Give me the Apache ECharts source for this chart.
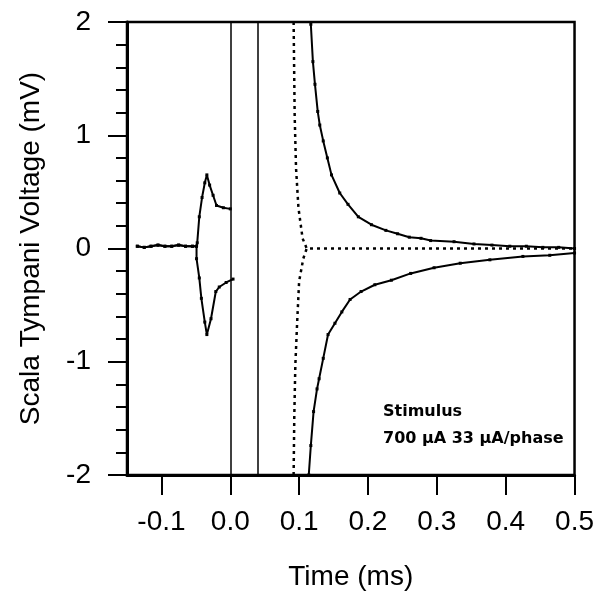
<!DOCTYPE html>
<html>
<head>
<meta charset="utf-8">
<script src="https://cdn.jsdelivr.net/npm/echarts@6/dist/echarts.min.js"></script>
<style>
  html, body { margin: 0; padding: 0; background: #fff; }
  #root { width: 597px; height: 597px; }
</style>
</head>
<body>
<div id="root"></div>
<script>
// x tick values (ms) and y range (mV)
var xTicks = [-0.1, 0.0, 0.1, 0.2, 0.3, 0.4, 0.5];
var stimulusEdges = [0, 0.04];

// pre-stimulus baseline, shared by both polarities
var baseT = [-0.135, -0.125, -0.115, -0.105, -0.095, -0.085, -0.075, -0.065, -0.055, -0.049];
var baseV = [0.02, 0.01, 0.02, 0.03, 0.02, 0.02, 0.03, 0.02, 0.02, 0.02];

// artefact spike before stimulus, positive branch
var spikeUpT = [-0.048, -0.045, -0.041, -0.037, -0.034, -0.03, -0.025, -0.02, -0.01, 0.0];
var spikeUpV = [0.05, 0.28, 0.45, 0.58, 0.65, 0.56, 0.47, 0.38, 0.36, 0.35];

// artefact spike before stimulus, negative branch
var spikeDnT = [-0.049, -0.045, -0.042, -0.037, -0.034, -0.028, -0.021, -0.016, -0.006, 0.004];
var spikeDnV = [-0.09, -0.26, -0.44, -0.65, -0.76, -0.62, -0.38, -0.34, -0.3, -0.27];

// post-stimulus decay, positive polarity
var decayUpT = [0.117, 0.12, 0.123, 0.127, 0.13, 0.135, 0.141, 0.147, 0.159, 0.171, 0.186, 0.205, 0.226, 0.243, 0.26, 0.277, 0.291, 0.325, 0.354, 0.38, 0.406, 0.43, 0.454, 0.477, 0.5];
var decayUpV = [1.98, 1.65, 1.45, 1.21, 1.09, 0.95, 0.8, 0.65, 0.49, 0.39, 0.28, 0.21, 0.16, 0.13, 0.1, 0.09, 0.07, 0.06, 0.04, 0.03, 0.02, 0.02, 0.01, 0.01, 0.0];

// post-stimulus decay, negative polarity
var decayDnT = [0.114, 0.117, 0.121, 0.126, 0.129, 0.135, 0.142, 0.152, 0.162, 0.174, 0.19, 0.21, 0.234, 0.262, 0.296, 0.334, 0.377, 0.425, 0.464, 0.5];
var decayDnV = [-2.0, -1.74, -1.44, -1.24, -1.15, -0.97, -0.76, -0.66, -0.56, -0.45, -0.38, -0.32, -0.28, -0.22, -0.17, -0.13, -0.1, -0.07, -0.06, -0.04];

// summed response (dotted), top half then flat tail
var sumUpT = [0.092, 0.0935, 0.0955, 0.099, 0.105, 0.111, 0.2, 0.3, 0.4, 0.5];
var sumUpV = [2.0, 1.18, 0.71, 0.36, 0.09, 0.0, 0.0, 0.0, 0.0, 0.0];

// summed response (dotted), bottom half
var sumDnT = [0.092, 0.093, 0.0945, 0.097, 0.1, 0.106, 0.111];
var sumDnV = [-2.0, -1.47, -1.03, -0.67, -0.29, -0.09, 0.0];

function pairs( t, v ){
	var out = [];
	for( var i = 0; i < t.length; i++ ){
		out.push([ t[i], v[i] ]);
	}
	return out;
}

var font = 'Liberation Sans, Arial, sans-serif';

function solid( data ){
	return {
		type: 'line',
		data: data,
		showSymbol: true,
		symbol: 'rect',
		symbolSize: 3,
		itemStyle: { color: '#000' },
		lineStyle: { color: '#000', width: 2 },
		animation: false
	};
}

function dotted( data ){
	return {
		type: 'line',
		data: data,
		showSymbol: false,
		lineStyle: { color: '#000', width: 2.5, type: [3, 4] },
		animation: false
	};
}

var chart = echarts.init( document.getElementById('root') );

var series = [
	solid( pairs( baseT, baseV ).concat( pairs( spikeUpT, spikeUpV ) ) ),
	solid( pairs( baseT, baseV ).concat( pairs( spikeDnT, spikeDnV ) ) ),
	solid( pairs( decayUpT, decayUpV ) ),
	solid( pairs( decayDnT, decayDnV ) ),
	dotted( pairs( sumUpT, sumUpV ) ),
	dotted( pairs( sumDnT, sumDnV ) )
];

// stimulus window edges
series[0].markLine = {
	silent: true,
	symbol: 'none',
	label: { show: false },
	lineStyle: { color: '#000', width: 1.5, type: 'solid' },
	data: stimulusEdges.map(function(x){ return { xAxis: x }; })
};

chart.setOption({
	backgroundColor: '#fff',
	grid: {
		left: 127, right: 19, top: 22, bottom: 122,
		show: true, borderColor: '#000', borderWidth: 2.5
	},
	xAxis: {
		type: 'value',
		min: -0.15, max: 0.5,
		name: 'Time (ms)',
		nameLocation: 'middle',
		nameGap: 88,
		nameTextStyle: { color: '#000', fontSize: 28, fontFamily: font },
		axisLine: { onZero: false, lineStyle: { color: '#000', width: 3 } },
		axisTick: { inside: false, length: 20, lineStyle: { color: '#000', width: 2 }, customValues: xTicks },
		axisLabel: {
			color: '#000', fontSize: 28, fontFamily: font, margin: 33,
			customValues: xTicks,
			formatter: function(v){ return v.toFixed(1); }
		},
		splitLine: { show: false }
	},
	yAxis: {
		type: 'value',
		min: -2, max: 2, interval: 1,
		name: 'Scala Tympani Voltage (mV)',
		nameLocation: 'middle',
		nameGap: 82,
		nameTextStyle: { color: '#000', fontSize: 28, fontFamily: font },
		axisLine: { onZero: false, lineStyle: { color: '#000', width: 3 } },
		axisTick: { inside: false, length: 19, lineStyle: { color: '#000', width: 2 } },
		minorTick: { show: true, splitNumber: 5, length: 11, lineStyle: { color: '#000', width: 2 } },
		axisLabel: { color: '#000', fontSize: 28, fontFamily: font, margin: 36 },
		splitLine: { show: false }
	},
	graphic: [
		{
			type: 'text', left: 383, top: 404,
			style: { text: 'Stimulus', fill: '#000', font: 'bold 16px "DejaVu Sans"' }
		},
		{
			type: 'text', left: 383, top: 431,
			style: { text: '700 \u00b5A 33 \u00b5A/phase', fill: '#000', font: 'bold 16px "DejaVu Sans"' }
		}
	],
	series: series
});
</script>
</body>
</html>
